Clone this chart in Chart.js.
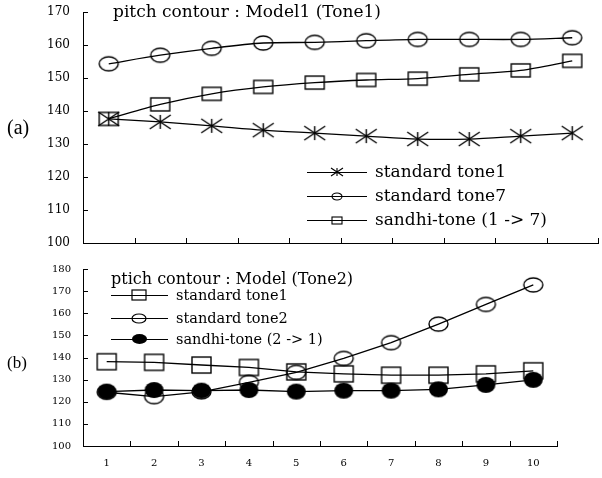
<!DOCTYPE html>
<html>
<head>
<meta charset="utf-8">
<script src="https://cdn.jsdelivr.net/npm/chart.js@4.4.1/dist/chart.umd.min.js"></script>
<style>
  body { margin: 0; background: #fff; }
  #wrap { position: relative; width: 602px; height: 478px; }
  canvas { position: absolute; left: 0; }
  #cA { top: 0; }
  #cB { top: 250px; }
  .lab { position: absolute; font-family: "Liberation Serif", serif; color: #000; line-height: 1; }
</style>
</head>
<body>
<div id="wrap">
  <canvas id="cA" width="602" height="250"></canvas>
  <canvas id="cB" width="602" height="228"></canvas>
  <div class="lab" style="left:7px;top:117px;font-size:20px">(a)</div>
  <div class="lab" style="left:7px;top:354px;font-size:17px">(b)</div>
</div>
<script>
// frame index along the x axis
const frames = ["1", "2", "3", "4", "5", "6", "7", "8", "9", "10"];

// (a) Model1 (Tone1)
const aTone1 = [137.6, 136.7, 135.5, 134.2, 133.3, 132.4, 131.5, 131.5, 132.4, 133.3];
const aTone7 = [154.3, 156.9, 159.0, 160.6, 160.8, 161.3, 161.7, 161.7, 161.7, 162.2];
const aSandhi = [137.6, 142.0, 145.2, 147.3, 148.6, 149.4, 149.8, 151.1, 152.3, 155.2];

// (b) Model (Tone2)
const bTone1 = [138.1, 137.8, 136.6, 135.5, 133.5, 132.6, 132.0, 132.0, 132.6, 134.0];
const bTone2 = [124.3, 122.3, 124.5, 128.8, 133.3, 139.6, 146.7, 155.1, 164.0, 172.8];
const bSandhi = [124.6, 125.3, 125.0, 125.3, 124.6, 125.0, 125.0, 125.6, 127.6, 129.9];

const aLegend = ["standard tone1", "standard tone7", "sandhi-tone (1 -> 7)"];
const bLegend = ["standard tone1", "standard tone2", "sandhi-tone (2 -> 1)"];
const aTitle = "pitch contour : Model1 (Tone1)";
const bTitle = "ptich contour : Model (Tone2)";

// little canvases used as point styles
function marker(kind, w, h, lw) {
  const c = document.createElement("canvas");
  c.width = w + 4; c.height = h + 4;
  const g = c.getContext("2d");
  g.strokeStyle = "#000"; g.fillStyle = "#000"; g.lineWidth = lw;
  const cx = c.width / 2, cy = c.height / 2;
  g.beginPath();
  if (kind === "circle" || kind === "dot") {
    g.ellipse(cx, cy, w / 2, h / 2, 0, 0, Math.PI * 2);
    if (kind === "dot") g.fill(); else g.stroke();
  } else if (kind === "square") {
    g.strokeRect(cx - w / 2, cy - h / 2, w, h);
  } else if (kind === "star") {
    g.moveTo(cx, cy - h / 2); g.lineTo(cx, cy + h / 2);
    g.moveTo(cx - w / 2, cy - h / 2); g.lineTo(cx + w / 2, cy + h / 2);
    g.moveTo(cx - w / 2, cy + h / 2); g.lineTo(cx + w / 2, cy - h / 2);
    g.stroke();
  }
  return c;
}

// inward tick marks on both axes
const innerTicks = {
  id: "innerTicks",
  afterDraw(chart) {
    const { ctx, chartArea: a, scales: { x, y } } = chart;
    ctx.save();
    ctx.strokeStyle = "#000"; ctx.lineWidth = 1;
    ctx.beginPath();
    y.ticks.forEach(t => {
      const py = Math.round(y.getPixelForValue(t.value)) + 0.5;
      ctx.moveTo(a.left, py); ctx.lineTo(a.left + 5, py);
    });
    for (let k = 0; k < frames.length; k++) {
      const px = Math.round(x.getPixelForValue(k + 0.5)) + 0.5;
      ctx.moveTo(px, a.bottom); ctx.lineTo(px, a.bottom - 5);
    }
    ctx.stroke();
    ctx.restore();
  }
};

// title + legend drawn inside the plot
function boxPlugin(cfg) {
  return {
    id: "box",
    afterDraw(chart) {
      const ctx = chart.ctx;
      ctx.save();
      ctx.fillStyle = "#000"; ctx.strokeStyle = "#000";
      ctx.textBaseline = "alphabetic"; ctx.textAlign = "left";
      ctx.font = cfg.titleFont;
      ctx.fillText(cfg.title, cfg.titleX, cfg.titleY);
      ctx.font = cfg.font;
      ctx.textBaseline = "middle";
      cfg.items.forEach((it, i) => {
        const yy = cfg.rows[i];
        ctx.lineWidth = 1.2;
        ctx.beginPath();
        ctx.moveTo(cfg.x0, yy + 0.5); ctx.lineTo(cfg.x1, yy + 0.5);
        ctx.stroke();
        const m = it.img;
        ctx.drawImage(m, Math.round(cfg.mx - m.width / 2), Math.round(yy - m.height / 2));
        ctx.fillText(it.text, cfg.tx, yy + 1);
      });
      ctx.restore();
    }
  };
}

function scales(min, max, yFont, yPad, xShow, xH) {
  return {
    x: {
      type: "category", offset: true,
      grid: { display: false, drawTicks: false },
      border: { display: true, color: "#000", width: 1 },
      ticks: {
        display: xShow, color: "#000",
        font: { family: "DejaVu Serif", size: 10 },
        padding: 11
      },
      afterFit(s) { s.height = xH; }
    },
    y: {
      min: min, max: max,
      grid: { display: false, drawTicks: false },
      border: { display: true, color: "#000", width: 1 },
      ticks: { stepSize: 10, color: "#000", font: { family: "DejaVu Serif", size: yFont }, padding: yPad },
      // fixed axis width, and no label padding pushed into the plot
      afterFit(s) { s.width = 83; s.paddingTop = 0; s.paddingBottom = 0; }
    }
  };
}

function line(data, img, order, tension) {
  return {
    data: data, order: order,
    borderColor: "#000", borderWidth: 1.3, tension: tension,
    pointStyle: img, pointRadius: 8, pointHoverRadius: 8,
    fill: false
  };
}

// (a)
const aImgs = [marker("star", 21, 14, 1.4), marker("circle", 19, 14, 1.4), marker("square", 19, 13, 1.4)];
const aSmall = [marker("star", 12, 8, 1.1), marker("circle", 10, 7, 1.1), marker("square", 10, 7, 1.1)];
new Chart(document.getElementById("cA"), {
  type: "line",
  data: {
    labels: frames,
    datasets: [
      line(aTone1, aImgs[0], 2, 0.3),
      line(aTone7, aImgs[1], 1, 0.3),
      line(aSandhi, aImgs[2], 0, 0.3)
    ]
  },
  options: {
    responsive: false, animation: false, devicePixelRatio: 1,
    layout: { autoPadding: false, padding: { top: 12, right: 4, left: 0, bottom: 0 } },
    plugins: { legend: { display: false }, tooltip: { enabled: false } },
    scales: scales(100, 170, 12, 13, false, 7)
  },
  plugins: [innerTicks, boxPlugin({
    title: aTitle, titleFont: "17px 'DejaVu Serif'", titleX: 113, titleY: 17,
    font: "17px 'DejaVu Serif'",
    items: aLegend.map((t, i) => ({ text: t, img: aSmall[i] })),
    rows: [172, 196, 220], x0: 307, x1: 367, mx: 337, tx: 375
  })]
});

// (b)
const bImgs = [marker("square", 19, 16, 1.4), marker("circle", 19, 14, 1.4), marker("dot", 19, 16, 1.4)];
const bSmall = [marker("square", 14, 10, 1.2), marker("circle", 14, 9, 1.2), marker("dot", 15, 10, 1.2)];
new Chart(document.getElementById("cB"), {
  type: "line",
  data: {
    labels: frames,
    datasets: [
      line(bTone1, bImgs[0], 2, 0),
      line(bTone2, bImgs[1], 1, 0),
      line(bSandhi, bImgs[2], 0, 0)
    ]
  },
  options: {
    responsive: false, animation: false, devicePixelRatio: 1,
    layout: { autoPadding: false, padding: { top: 19, right: 45, left: 0, bottom: 0 } },
    plugins: { legend: { display: false }, tooltip: { enabled: false } },
    scales: scales(100, 180, 10, 12, true, 32)
  },
  plugins: [innerTicks, boxPlugin({
    title: bTitle, titleFont: "16px 'DejaVu Serif'", titleX: 111, titleY: 34,
    font: "14.5px 'DejaVu Serif'",
    items: bLegend.map((t, i) => ({ text: t, img: bSmall[i] })),
    rows: [45, 68, 89], x0: 111, x1: 168, mx: 139, tx: 176
  })]
});
</script>
</body>
</html>
